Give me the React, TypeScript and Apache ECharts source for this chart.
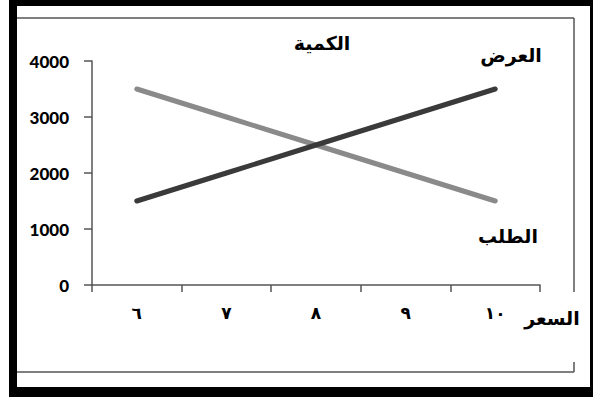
import React, { useEffect, useRef } from "react";
import * as echarts from "echarts";

const priceLabels = ["٦", "٧", "٨", "٩", "١٠"];
const supplyValues = [1500, 2000, 2500, 3000, 3500];
const demandValues = [3500, 3000, 2500, 2000, 1500];
const yTicks = { min: 0, max: 4000, interval: 1000 };
const supplyName = "العرض";
const demandName = "الطلب";
const quantityName = "الكمية";
const priceName = "السعر";

const arabicFont = "'DejaVu Sans', sans-serif";

export default function App() {
  const ref = useRef<HTMLDivElement>(null);
  useEffect(() => {
    if (!ref.current) return;
    const chart = echarts.init(ref.current, null, { renderer: "svg" });
    const txt = (text: string, x: number, y: number, size = 19) => ({
      type: "text",
      x,
      y,
      style: {
        text,
        fill: "#000",
        font: `bold ${size}px ${arabicFont}`,
        align: "center",
        verticalAlign: "middle",
      },
    });
    chart.setOption({
      animation: false,
      backgroundColor: "#fff",
      grid: { left: 92, top: 61, right: 53, bottom: 113, containLabel: false },
      xAxis: {
        type: "category",
        data: priceLabels,
        boundaryGap: true,
        axisLine: { show: true, lineStyle: { color: "#555", width: 1.5 } },
        axisTick: { show: true, length: 7, lineStyle: { color: "#555", width: 1.5 } },
        axisLabel: {
          margin: 19,
          color: "#000",
          fontWeight: "bold",
          fontSize: 17,
          fontFamily: arabicFont,
        },
        splitLine: { show: false },
      },
      yAxis: {
        type: "value",
        min: yTicks.min,
        max: yTicks.max,
        interval: yTicks.interval,
        axisLine: { show: true, lineStyle: { color: "#555", width: 1.5 } },
        axisTick: { show: true, length: 8, lineStyle: { color: "#555", width: 1.5 } },
        axisLabel: {
          margin: 23,
          color: "#000",
          fontWeight: 900,
          fontSize: 17,
          fontFamily: "Lato, sans-serif",
          formatter: (v: number) => String(v),
        },
        splitLine: { show: false },
      },
      series: [
        {
          name: demandName,
          type: "line",
          data: demandValues,
          showSymbol: false,
          lineStyle: { color: "#8a8a8a", width: 5, cap: "round" },
          z: 2,
        },
        {
          name: supplyName,
          type: "line",
          data: supplyValues,
          showSymbol: false,
          lineStyle: { color: "#3a3a3a", width: 5, cap: "round" },
          z: 3,
        },
      ],
      graphic: [
        { type: "rect", shape: { x: 9, y: 0, width: 8, height: 397 }, style: { fill: "#000" } },
        { type: "rect", shape: { x: 9, y: 0, width: 584, height: 6 }, style: { fill: "#000" } },
        { type: "rect", shape: { x: 590, y: 0, width: 3, height: 397 }, style: { fill: "#000" } },
        { type: "rect", shape: { x: 9, y: 387, width: 584, height: 10 }, style: { fill: "#000" } },
        { type: "line", shape: { x1: 17, y1: 18, x2: 574, y2: 18 }, style: { stroke: "#555", lineWidth: 1.5 } },
        { type: "line", shape: { x1: 574, y1: 18, x2: 574, y2: 292 }, style: { stroke: "#555", lineWidth: 1.5 } },
        { type: "line", shape: { x1: 574, y1: 362, x2: 574, y2: 372 }, style: { stroke: "#555", lineWidth: 1.5 } },
        { type: "line", shape: { x1: 17, y1: 372, x2: 574, y2: 372 }, style: { stroke: "#555", lineWidth: 1.5 } },
        txt(quantityName, 322, 43),
        txt(supplyName, 511, 55),
        txt(demandName, 508, 236),
        txt(priceName, 552, 318),
      ],
    });
    return () => chart.dispose();
  }, []);
  return (
    <div
      ref={ref}
      style={{ position: "fixed", left: 0, top: 0, width: 593, height: 398 }}
    />
  );
}
